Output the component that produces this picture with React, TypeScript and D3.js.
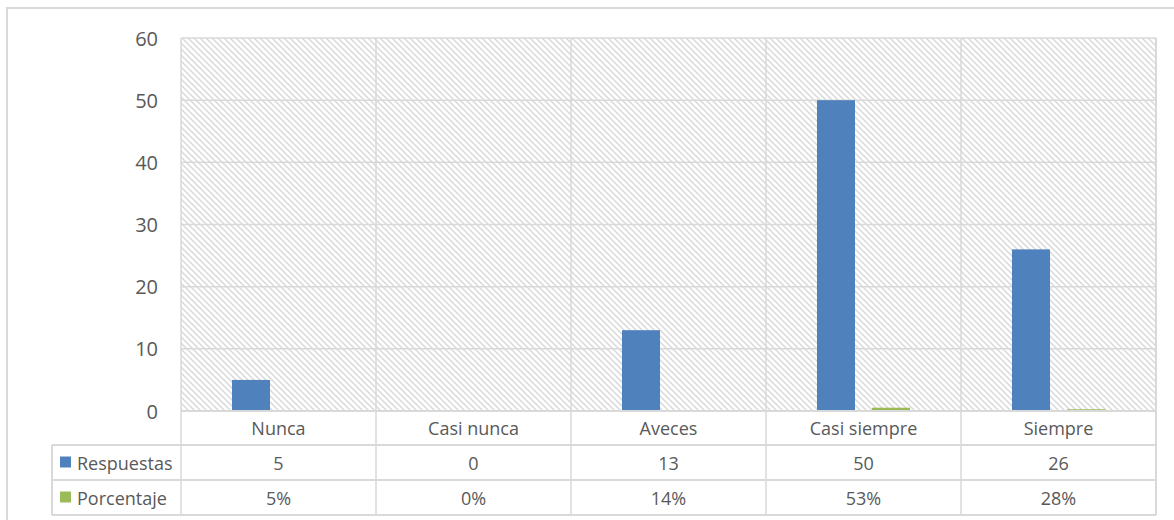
import React from "react";
import * as d3 from "d3";

const categories = ["Nunca", "Casi nunca", "Aveces", "Casi siempre", "Siempre"];
const respuestas = [5, 0, 13, 50, 26];
const porcentaje = [0.05, 0, 0.14, 0.53, 0.28];
const yTicks = [0, 10, 20, 30, 40, 50, 60];
const seriesNames = ["Respuestas", "Porcentaje"];
const seriesColors = ["#4f81bd", "#9bbb59"];

const W = 1174;
const H = 520;
const plot = { left: 181, right: 1156, top: 38, bottom: 411 };
const rowLines = [411, 445, 480, 515];
const tableLeft = 52;
const font = "'Open Sans', 'DejaVu Sans', sans-serif";
const textColor = "#595959";
const gridColor = "#d9d9d9";

export default function App() {
  const x = d3
    .scaleBand<string>()
    .domain(categories)
    .range([plot.left, plot.right])
    .paddingInner(0)
    .paddingOuter(0);
  const inner = d3
    .scaleBand<string>()
    .domain(seriesNames)
    .range([0, x.bandwidth()])
    .paddingInner(0.309)
    .paddingOuter(0.927);
  const y = d3.scaleLinear().domain([0, 60]).range([plot.bottom, plot.top]);

  const series = [respuestas, porcentaje];
  const rowCenter = (i: number) => (rowLines[i] + rowLines[i + 1]) / 2;

  return (
    <svg
      width={W}
      height={H}
      style={{ position: "absolute", left: 0, top: 0, background: "#fff" }}
      fontFamily={font}
    >
      <defs>
        <pattern id="hatch" patternUnits="userSpaceOnUse" width={6} height={6}>
          <rect width={6} height={6} fill="#ffffff" />
          <path
            d="M0,0 L6,6 M-3,3 L3,9 M3,-3 L9,3"
            stroke="#d9d9d9"
            strokeWidth={1.5}
          />
        </pattern>
      </defs>

      {/* chart frame */}
      <rect x={7} y={8} width={W + 10} height={H + 10} fill="#fff" stroke="#d9d9d9" strokeWidth={2} />

      {/* plot area */}
      <rect
        x={plot.left}
        y={plot.top}
        width={plot.right - plot.left}
        height={plot.bottom - plot.top}
        fill="url(#hatch)"
      />

      {/* horizontal gridlines */}
      {yTicks.map((t) => (
        <line
          key={t}
          x1={plot.left}
          x2={plot.right}
          y1={y(t)}
          y2={y(t)}
          stroke={gridColor}
          strokeWidth={1.5}
        />
      ))}

      {/* y tick labels */}
      {yTicks.map((t) => (
        <text
          key={t}
          x={158}
          y={y(t)}
          textAnchor="end"
          dominantBaseline="central"
          fontSize={20}
          fill={textColor}
        >
          {t}
        </text>
      ))}

      {/* bars */}
      {series.map((vals, si) =>
        vals.map((v, ci) => (
          <rect
            key={`${si}-${ci}`}
            x={(x(categories[ci]) as number) + (inner(seriesNames[si]) as number)}
            y={y(v)}
            width={inner.bandwidth()}
            height={plot.bottom - y(v)}
            fill={seriesColors[si]}
          />
        ))
      )}

      {/* data table lines */}
      {rowLines.map((ly, i) => (
        <line
          key={ly}
          x1={i === 0 ? plot.left : tableLeft}
          x2={plot.right}
          y1={ly}
          y2={ly}
          stroke={gridColor}
          strokeWidth={2}
        />
      ))}
      {categories.map((c) => (
        <line
          key={c}
          x1={x(c) as number}
          x2={x(c) as number}
          y1={plot.top}
          y2={rowLines[3]}
          stroke={gridColor}
          strokeWidth={1.5}
        />
      ))}
      <line x1={plot.right} x2={plot.right} y1={plot.top} y2={rowLines[3]} stroke={gridColor} strokeWidth={2} />
      <line x1={tableLeft} x2={tableLeft} y1={rowLines[1]} y2={rowLines[3]} stroke={gridColor} strokeWidth={2} />

      {/* category labels */}
      {categories.map((c) => (
        <text
          key={c}
          x={(x(c) as number) + x.bandwidth() / 2}
          y={rowCenter(0)}
          textAnchor="middle"
          dominantBaseline="central"
          fontSize={18}
          fill={textColor}
        >
          {c}
        </text>
      ))}

      {/* series rows */}
      {seriesNames.map((name, si) => (
        <g key={name}>
          <rect x={60} y={rowCenter(si + 1) - 6} width={11} height={11} fill={seriesColors[si]} />
          <text
            x={77}
            y={rowCenter(si + 1)}
            dominantBaseline="central"
            fontSize={18}
            fill={textColor}
          >
            {name}
          </text>
          {series[si].map((v, ci) => (
            <text
              key={ci}
              x={(x(categories[ci]) as number) + x.bandwidth() / 2}
              y={rowCenter(si + 1)}
              textAnchor="middle"
              dominantBaseline="central"
              fontSize={18}
              fill={textColor}
            >
              {si === 0 ? v : d3.format(".0%")(v)}
            </text>
          ))}
        </g>
      ))}
    </svg>
  );
}
